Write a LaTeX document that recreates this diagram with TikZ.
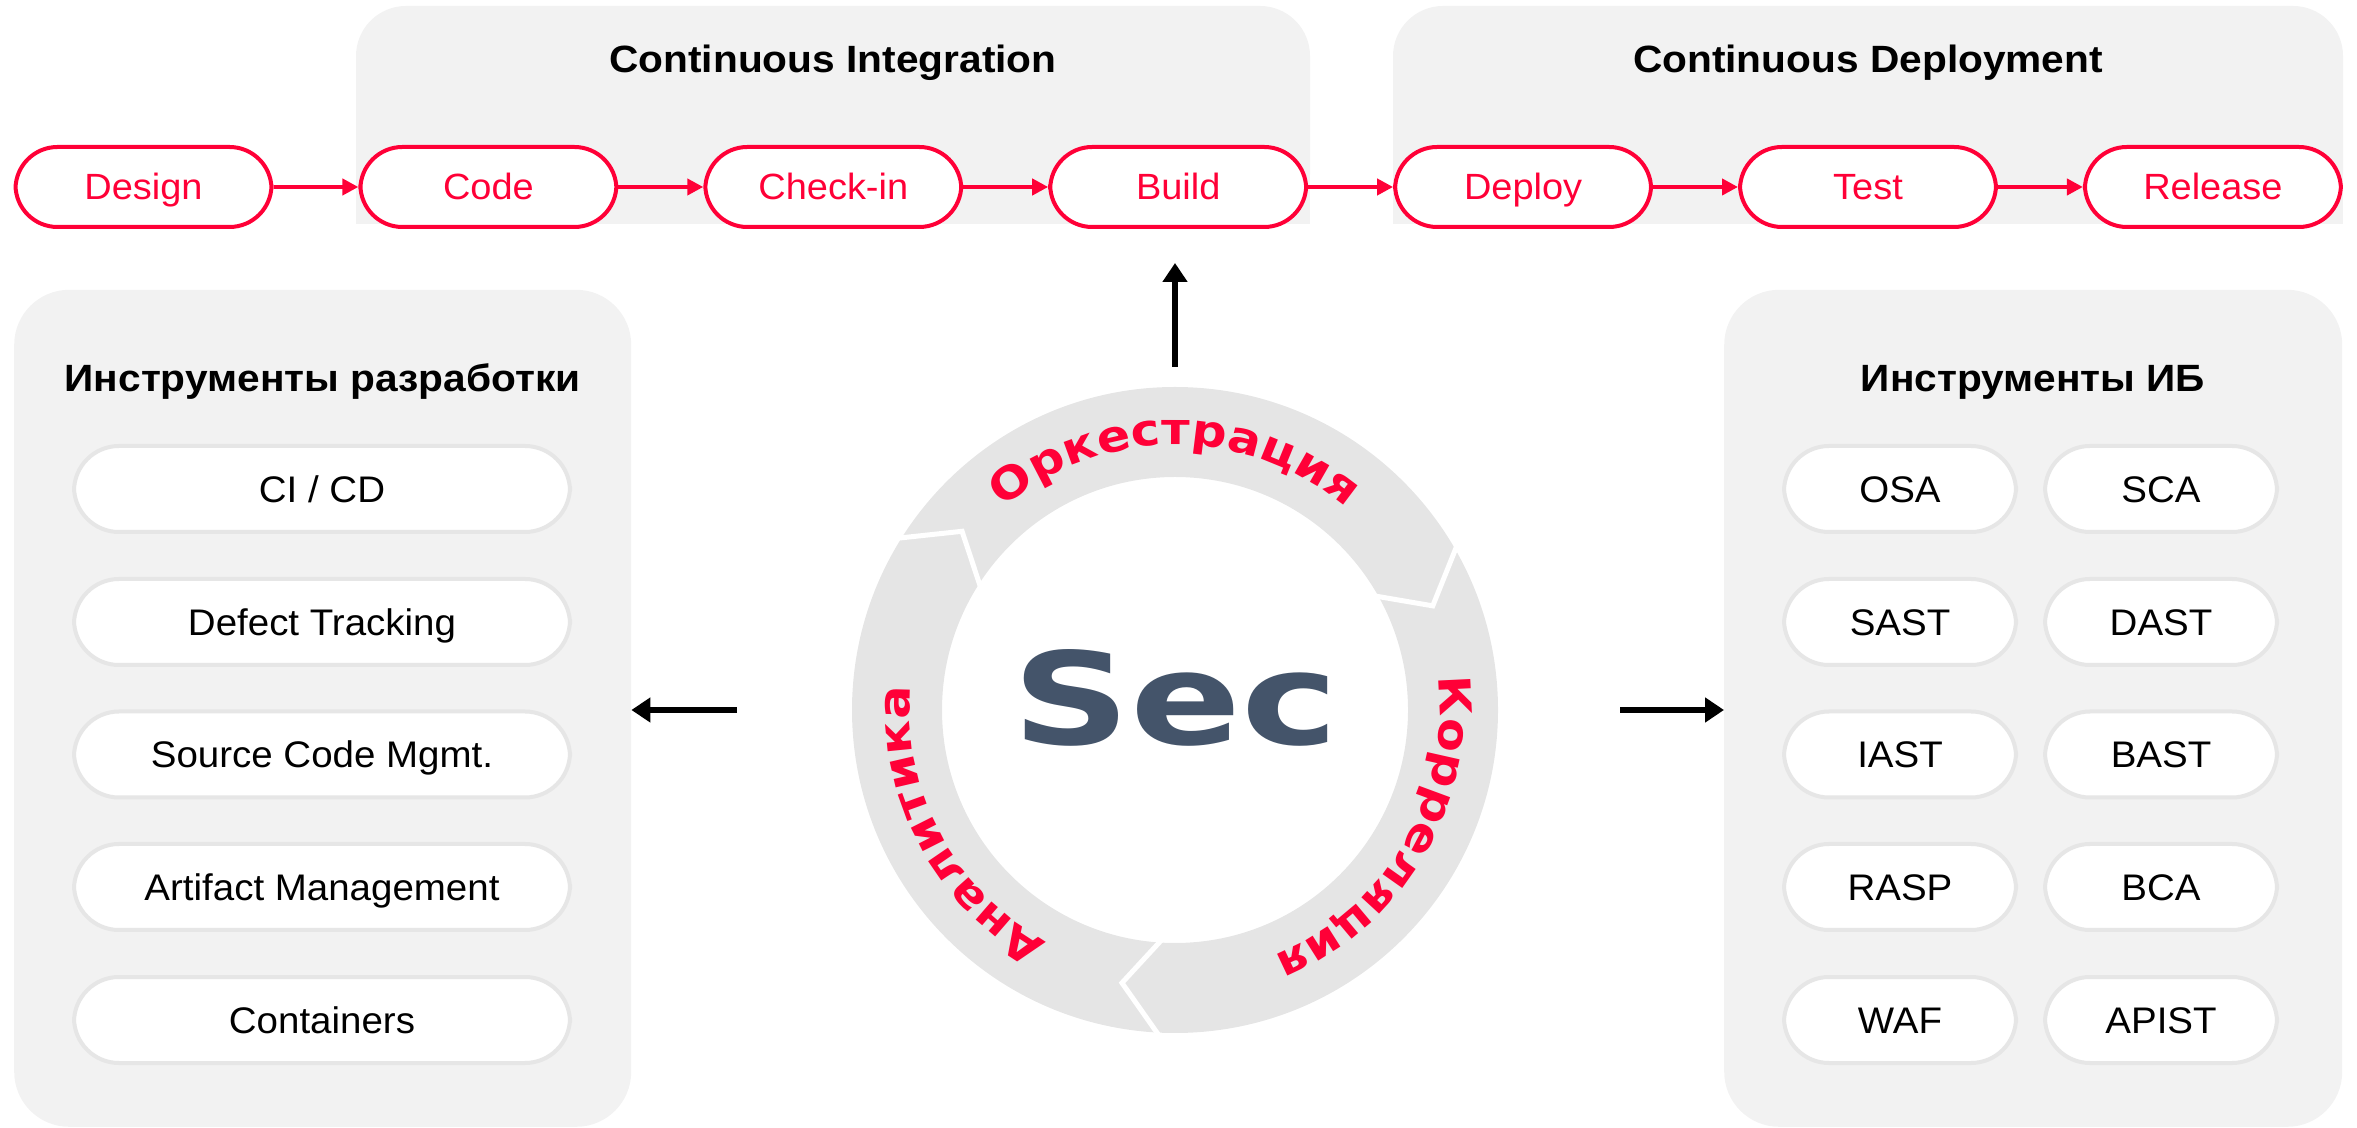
\documentclass[tikz,border=0pt]{standalone}
\usepackage{fontspec}
\setmainfont{Liberation Sans}[FakeStretch=1.04]
\newfontfamily\titlefont{Liberation Sans}[FakeStretch=1.07]
\newfontfamily\widefont{DejaVu Sans}[FakeStretch=1.12]
\newfontfamily\secfont{DejaVu Sans}[FakeStretch=1.28]
\usetikzlibrary{arrows.meta,decorations.text,calc}
\definecolor{secred}{HTML}{FF0037}
\definecolor{panelfill}{HTML}{F2F2F2}
\definecolor{ringfill}{HTML}{E5E5E5}
\definecolor{pillline}{HTML}{E6E6E6}
\definecolor{secblue}{HTML}{44546A}
\newcommand\arcstyle{\widefont\bfseries\fontsize{44}{44}\selectfont}
\begin{document}
\begin{tikzpicture}[x=1pt,y=1pt,
  stage/.style={draw=secred, line width=4pt, fill=white, rounded corners=42pt,
    minimum width=256pt, minimum height=80pt, inner sep=0pt,
    text=secred, font=\fontsize{36.5}{36.5}\selectfont, text height=26pt, text depth=0pt},
  toolpill/.style={draw=pillline, line width=4pt, fill=white, rounded corners=45pt,
    minimum height=86pt, inner sep=0pt,
    font=\fontsize{37}{37}\selectfont, text height=26.5pt, text depth=0pt},
  devpill/.style={toolpill, minimum width=496pt},
  secpill/.style={toolpill, minimum width=232pt},
  paneltitle/.style={font=\titlefont\bfseries\fontsize{38}{38}\selectfont, anchor=base, inner sep=0pt},
  panelbox/.style={fill=panelfill, rounded corners=55pt, inner sep=0pt, anchor=south west},
  redarrow/.style={draw=secred, line width=4pt, -{Triangle[length=16pt,width=16pt]}},
  blackarrow/.style={draw=black, line width=6pt, -{Triangle[length=19pt,width=24pt]}},
  gapline/.style={draw=white, line width=5pt, line join=miter},
  arctext/.style={decorate, decoration={text along path, text align=center, text color=secred, text={|\arcstyle|#1}}}
]
\useasboundingbox (0,0) rectangle (2357,1127);
\clip (0,0) rectangle (2357,1127);

% top grey areas
\fill[panelfill, rounded corners=50pt] (356,903) rectangle (1310,1121);
\fill[panelfill] (356,903) rectangle (1310,980);
\fill[panelfill, rounded corners=50pt] (1393,903) rectangle (2343,1121);
\fill[panelfill] (1393,903) rectangle (2343,980);
\node[paneltitle] (cititle) at (833,1054) {Continuous Integration};
\node[paneltitle] (cdtitle) at (1868,1054) {Continuous Deployment};

% pipeline
\node[stage] (design)  at (143.5,940) {Design};
\node[stage] (code)    at (488.4,940) {Code};
\node[stage] (checkin) at (833.3,940) {Check-in};
\node[stage] (build)   at (1178.2,940) {Build};
\node[stage] (deploy)  at (1523.1,940) {Deploy};
\node[stage] (test)    at (1868,940) {Test};
\node[stage] (release) at (2212.9,940) {Release};
\draw[redarrow] (design) -- (code);
\draw[redarrow] (code) -- (checkin);
\draw[redarrow] (checkin) -- (build);
\draw[redarrow] (build) -- (deploy);
\draw[redarrow] (deploy) -- (test);
\draw[redarrow] (test) -- (release);

% side panels
\node[panelbox, minimum width=617pt, minimum height=837pt] (devpanel) at (14,0) {};
\node[panelbox, minimum width=618pt, minimum height=837pt] (secpanel) at (1724,0) {};
\node[paneltitle] (devtitle) at (322.5,735) {Инструменты разработки};
\node[paneltitle] (sectitle) at (2033,735) {Инструменты ИБ};

\node[devpill] (cicd)     at (322,638)   {CI / CD};
\node[devpill] (defect)   at (322,505)   {Defect Tracking};
\node[devpill] (scm)      at (322,372.5) {Source Code Mgmt.};
\node[devpill] (artifact) at (322,240)   {Artifact Management};
\node[devpill] (contain)  at (322,107)   {Containers};

\node[secpill] (osa)   at (1900,638)   {OSA};
\node[secpill] (sca)   at (2161,638)   {SCA};
\node[secpill] (sast)  at (1900,505)   {SAST};
\node[secpill] (dast)  at (2161,505)   {DAST};
\node[secpill] (iast)  at (1900,372.5) {IAST};
\node[secpill] (bast)  at (2161,372.5) {BAST};
\node[secpill] (rasp)  at (1900,240)   {RASP};
\node[secpill] (bca)   at (2161,240)   {BCA};
\node[secpill] (waf)   at (1900,107)   {WAF};
\node[secpill] (apist) at (2161,107)   {APIST};

% ring
\coordinate (ring) at (1175,417);
\fill[ringfill, even odd rule] (ring) circle (323) (ring) circle (233);
\draw[gapline] ([shift={(31:332)}]ring) -- ([shift={(22:278)}]ring) -- ([shift={(31:224)}]ring);
\draw[gapline] ([shift={(149:332)}]ring) -- ([shift={(140:278)}]ring) -- ([shift={(149:224)}]ring);
\draw[gapline] ([shift={(268:332)}]ring) -- ([shift={(259:278)}]ring) -- ([shift={(268:224)}]ring);

\path[arctext={Оркестрация}] ([shift={(150:265)}]ring) arc[start angle=150, end angle=30, radius=265];
\path[arctext={Корреляция}] ([shift={(29.5:265)}]ring) arc[start angle=29.5, end angle=-90.5, radius=265];
\path[arctext={Аналитика}] ([shift={(268:265)}]ring) arc[start angle=268, end angle=148, radius=265];

\node[inner sep=0pt, text=secblue, font=\secfont\bfseries\fontsize{128}{128}\selectfont, text height=93pt, text depth=0pt] (sec) at (1176,429) {Sec};

% black arrows
\coordinate (upS) at (1175,760);
\coordinate (upE) at (1175,864);
\draw[blackarrow] (upS) -- (upE);
\coordinate (lS) at (737,417);
\draw[blackarrow] (lS) -- (lS -| devpanel.east);
\coordinate (rS) at (1620,417);
\draw[blackarrow] (rS) -- (rS -| secpanel.west);
\end{tikzpicture}
\end{document}
